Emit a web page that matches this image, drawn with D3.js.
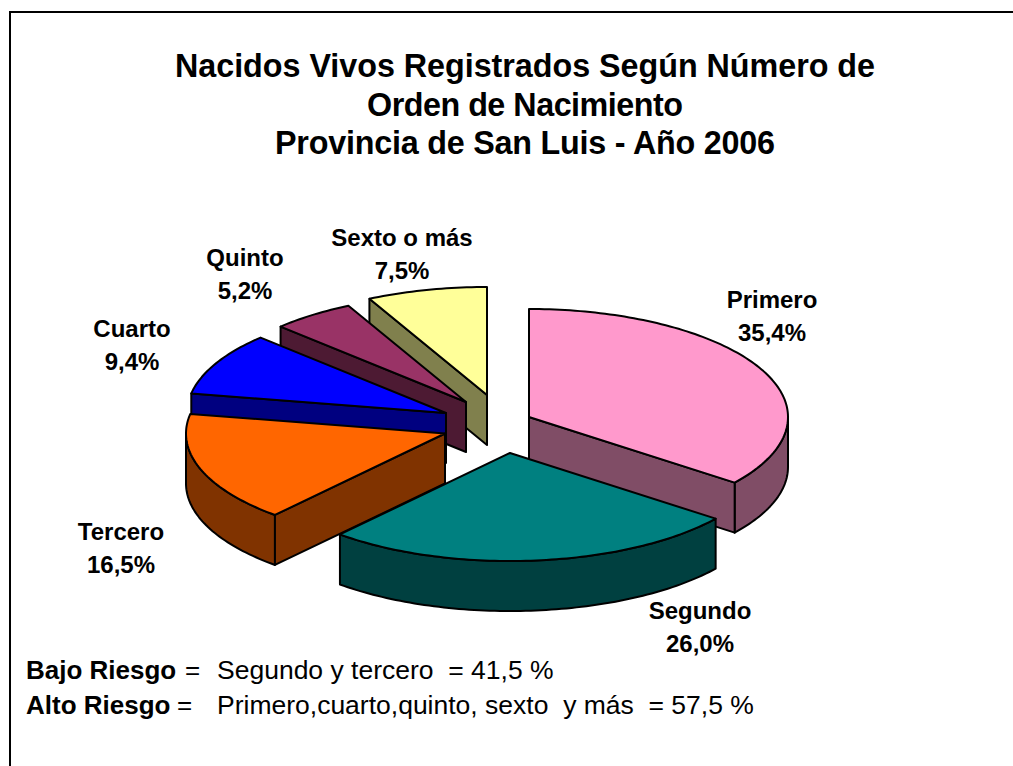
<!DOCTYPE html>
<html><head><meta charset="utf-8">
<script src="https://cdn.jsdelivr.net/npm/d3@7"></script>
<style>html,body{margin:0;padding:0;background:#fff}svg{display:block}text{font-family:"Liberation Sans",Arial,sans-serif;fill:#000}</style>
</head><body><svg id="c" width="1013" height="766"></svg>
<script>
const categories=["Primero","Segundo","Tercero","Cuarto","Quinto","Sexto o más"];
const values=[35.4,26.0,16.5,9.4,5.2,7.5];
const valueLabels=["35,4%","26,0%","16,5%","9,4%","5,2%","7,5%"];
const topColors=["#FF99CC","#008080","#FF6600","#0000FF","#993366","#FFFF99"];
const sideColors=["#804D66","#004040","#803300","#000080","#4D1A33","#80804D"];
const titleLines=["Nacidos Vivos Registrados Según Número de","Orden de Nacimiento","Provincia de San Luis - Año 2006"];
// layout
const titleWidths=[700,316,500];
const apexX=[529,510,445,446,466,487], apexY=[417,453,433.5,413,402,395];
const labelX=[772,700,121,132,245,402], labelY=[308,619,540,337,266,246];
const drawOrder=[5,4,3,0,2,1];
const rx=259, ry=108, depth=50;

const svg=d3.select("#c");
svg.append("path").attr("d","M10,766V12H1013").attr("fill","none").attr("stroke","#000").attr("stroke-width",2);
titleLines.forEach((t,i)=>svg.append("text").attr("x",525).attr("y",77+i*38.5).attr("text-anchor","middle").attr("font-weight","bold").attr("font-size",32.3).attr("textLength",titleWidths[i]).text(t));

const arcs=d3.pie().sort(null).value(d=>d).startAngle(0).endAngle(2*Math.PI)(values);
const sx=d3.scaleLinear().domain([-1,1]).range([-rx,rx]);
const sy=d3.scaleLinear().domain([-1,1]).range([-ry,ry]);
const line=d3.line();
const rimPts=(a0,a1,dx,dy)=>{const n=Math.max(2,Math.ceil((a1-a0)/0.02));
  return d3.range(n+1).map(i=>{const t=a0+(a1-a0)*i/n;return [dx+sx(Math.sin(t)),dy+sy(-Math.cos(t))];});};
const stroke=g=>g.attr("stroke","#000").attr("stroke-width",2).attr("stroke-linejoin","round");
drawOrder.forEach(i=>{
  const a=arcs[i],x=apexX[i],y=apexY[i],a0=a.startAngle,a1=a.endAngle,g=svg.append("g");
  const r0=Math.max(a0,Math.PI/2),r1=Math.min(a1,3*Math.PI/2);
  if(r1>r0){
    const top=rimPts(r0,r1,x,y),bot=top.map(p=>[p[0],p[1]+depth]).reverse();
    g.append("path").attr("d",line(top.concat(bot))+"Z").attr("fill",sideColors[i]).call(stroke);
  }
  const face=t=>{const e=[x+sx(Math.sin(t)),y+sy(-Math.cos(t))];
    g.append("path").attr("d",line([[x,y],e,[e[0],e[1]+depth],[x,y+depth]])+"Z").attr("fill",sideColors[i]).call(stroke);};
  if(Math.sin(a0)<0) face(a0);
  if(Math.sin(a1)>0) face(a1);
  g.append("path").attr("d",line([[x,y]].concat(rimPts(a0,a1,x,y)))+"Z").attr("fill",topColors[i]).call(stroke);
});
categories.forEach((c,i)=>{
  const t=svg.append("text").attr("text-anchor","middle").attr("font-weight","bold").attr("font-size",24);
  t.append("tspan").attr("x",labelX[i]).attr("y",labelY[i]).text(c);
  t.append("tspan").attr("x",labelX[i]).attr("y",labelY[i]+33).text(valueLabels[i]);
});
const note=(y,b,rest,x2)=>{
  svg.append("text").attr("x",26).attr("y",y).attr("font-size",26).attr("font-weight","bold").text(b);
  svg.append("text").attr("x",x2[0]).attr("y",y).attr("font-size",26).text("=");
  svg.append("text").attr("x",x2[1]).attr("y",y).attr("font-size",26.5).style("white-space","pre").text(rest);
};
note(679,"Bajo Riesgo","Segundo y tercero  = 41,5 %",[185,217]);
note(714,"Alto Riesgo","Primero,cuarto,quinto, sexto  y más  = 57,5 %",[177,217]);
</script></body></html>
